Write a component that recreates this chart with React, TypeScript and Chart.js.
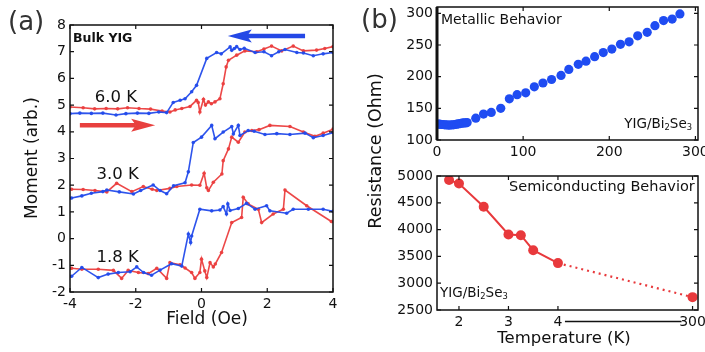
import React, { useEffect, useRef } from 'react';
import { Chart, registerables } from 'chart.js';
Chart.register(...registerables);

// ---------- Panel (a) data ----------
const FIELD_TICKS = [-4, -2, 0, 2, 4];
const MOMENT_TICKS = [-2, -1, 0, 1, 2, 3, 4, 5, 6, 7, 8];

const FIELD_6K_DOWN = [-4.0, -3.7, -3.35, -3.0, -2.6, -2.3, -1.95, -1.6, -1.3, -1.06, -0.86, -0.65, -0.5, -0.3, -0.15, 0.16, 0.46, 0.6, 0.87, 0.92, 1.0, 1.07, 1.17, 1.3, 1.63, 1.9, 2.13, 2.35, 2.54, 2.9, 3.1, 3.4, 3.7, 4.0];
const MOMENT_6K_DOWN = [4.68, 4.7, 4.69, 4.7, 4.63, 4.68, 4.7, 4.69, 4.74, 4.72, 5.1, 5.18, 5.24, 5.5, 5.74, 6.75, 6.97, 6.92, 7.18, 7.05, 7.12, 7.19, 7.08, 7.13, 6.97, 7.0, 6.85, 7.0, 7.08, 6.97, 6.95, 6.85, 6.92, 6.97];
const FIELD_6K_UP = [-4.0, -3.6, -3.25, -2.9, -2.55, -2.25, -1.9, -1.55, -1.2, -0.96, -0.8, -0.6, -0.35, -0.15, -0.1, -0.05, 0.06, 0.12, 0.21, 0.3, 0.41, 0.56, 0.66, 0.75, 0.82, 1.07, 1.32, 1.68, 1.9, 2.13, 2.44, 2.79, 3.1, 3.5, 3.75, 4.0];
const MOMENT_6K_UP = [4.93, 4.9, 4.86, 4.87, 4.86, 4.9, 4.87, 4.85, 4.78, 4.74, 4.82, 4.87, 4.95, 5.18, 5.1, 4.74, 5.22, 5.0, 5.12, 5.05, 5.12, 5.24, 5.8, 6.43, 6.68, 6.87, 7.03, 7.0, 7.1, 7.21, 7.03, 7.21, 7.03, 7.06, 7.12, 7.19];

const FIELD_3K_DOWN = [-3.95, -3.64, -3.35, -3.0, -2.88, -2.5, -2.07, -1.85, -1.47, -1.26, -1.06, -0.85, -0.5, -0.4, -0.25, 0.0, 0.31, 0.41, 0.66, 0.92, 0.97, 1.12, 1.17, 1.42, 1.6, 1.93, 2.29, 2.69, 3.15, 3.4, 3.7, 4.0];
const MOMENT_3K_DOWN = [1.52, 1.6, 1.7, 1.76, 1.82, 1.75, 1.67, 1.8, 2.01, 1.8, 1.68, 1.98, 2.09, 2.5, 3.6, 3.8, 4.24, 3.74, 3.99, 4.2, 3.92, 4.24, 3.86, 4.05, 4.02, 3.9, 3.93, 3.9, 3.95, 3.78, 3.86, 3.97];
const FIELD_3K_UP = [-3.95, -3.6, -3.24, -2.88, -2.58, -2.12, -1.77, -1.5, -1.36, -0.96, -0.75, -0.3, -0.05, 0.08, 0.16, 0.21, 0.36, 0.62, 0.66, 0.82, 0.92, 1.12, 1.32, 1.53, 1.75, 2.08, 2.69, 3.1, 3.45, 3.7, 4.0];
const MOMENT_3K_UP = [1.85, 1.84, 1.8, 1.75, 2.07, 1.76, 1.95, 1.85, 1.8, 1.88, 1.95, 2.01, 2.0, 2.45, 1.9, 1.8, 2.11, 2.42, 2.92, 3.36, 3.8, 3.61, 3.99, 4.05, 4.08, 4.24, 4.2, 3.99, 3.83, 3.95, 4.1];

const FIELD_1K8_DOWN = [-3.95, -3.64, -3.14, -2.84, -2.53, -2.17, -1.97, -1.76, -1.52, -1.26, -0.91, -0.6, -0.4, -0.33, -0.3, -0.05, 0.31, 0.56, 0.66, 0.76, 0.8, 0.87, 1.12, 1.37, 1.63, 1.98, 2.08, 2.59, 2.79, 3.25, 3.7, 4.0];
const MOMENT_1K8_DOWN = [-1.41, -1.08, -1.46, -1.33, -1.27, -1.24, -1.06, -1.27, -1.37, -1.18, -0.94, -1.03, 0.17, -0.15, 0.1, 1.1, 1.04, 1.07, 1.2, 0.92, 1.3, 1.05, 1.13, 1.32, 1.1, 1.23, 1.04, 0.95, 1.1, 1.1, 1.1, 1.02];
const FIELD_1K8_UP = [-3.95, -3.64, -3.14, -2.68, -2.43, -2.23, -1.92, -1.62, -1.36, -1.06, -0.96, -0.65, -0.5, -0.3, -0.2, -0.05, 0.0, 0.1, 0.16, 0.26, 0.36, 0.42, 0.61, 0.92, 1.22, 1.27, 1.42, 1.73, 1.83, 2.18, 2.49, 2.54, 3.2, 3.95];
const MOMENT_1K8_UP = [-1.11, -1.15, -1.15, -1.19, -1.49, -1.19, -1.27, -1.31, -1.11, -1.49, -0.9, -0.98, -1.1, -1.27, -1.49, -1.27, -0.77, -1.21, -1.46, -0.9, -1.06, -0.95, -0.52, 0.6, 0.79, 1.55, 1.3, 1.1, 0.6, 0.92, 1.1, 1.82, 1.23, 0.64];

// ---------- Panel (b) data ----------
const TEMP_METAL_TICKS = [0, 100, 200, 300];
const RES_METAL_TICKS = [100, 150, 200, 250, 300];
const TEMP_METAL = [1.5, 3, 5, 7, 9, 11, 13, 15, 17, 19, 21, 23, 25, 27, 29, 31, 33, 35, 45, 54, 63, 74, 84, 93, 103, 113, 123, 133, 144, 153, 164, 173, 183, 193, 203, 213, 223, 233, 244, 253, 263, 273, 282];
const RES_METAL = [125, 125, 124.5, 124.5, 124, 124, 123.5, 123.5, 124, 124, 124.5, 125, 125.5, 126, 126.5, 127, 127, 127.5, 134.5, 141, 143.5, 150, 165, 171.5, 174.5, 184, 190, 195.5, 202, 211.5, 219.5, 224.5, 231.5, 238, 243.5, 251, 255, 264.5, 270, 280.5, 288.5, 291, 299];

const TEMP_SEMI_TICKS = [2, 3, 4, 300];
const RES_SEMI_TICKS = [2500, 3000, 3500, 4000, 4500, 5000];
const TEMP_SEMI = [1.8, 2, 2.5, 3, 3.25, 3.5, 4, 300];
const RES_SEMI = [4925, 4860, 4425, 3910, 3895, 3615, 3375, 2740];
// broken temperature axis: everything above 4 K is drawn at the break position
const BREAK_FROM = 4;
const BREAK_POS = 6.72;
const axisT = (t: number) => (t <= BREAK_FROM ? t : BREAK_POS);

const BLUE_A = 'rgba(35,75,235,0.95)';
const RED_A = 'rgba(235,62,62,0.95)';
const BLUE_B = '#1f4cf2';
const RED_B = '#e8393c';
const TXT = '#111';
const FONT = "'DejaVu Sans', Verdana, sans-serif";

Chart.defaults.font.family = FONT;
Chart.defaults.color = TXT;

const pts = (xs: number[], ys: number[], f = (v: number) => v) => xs.map((x, i) => ({ x: f(x), y: ys[i] }));

function scale(min: number, max: number, ticks: number[], horizontal: boolean, label?: (v: number) => string) {
  return {
    type: 'linear',
    min,
    max,
    afterBuildTicks: (s: any) => {
      s.ticks = ticks.map((v) => ({ value: v }));
    },
    afterFit: (s: any) => {
      if (horizontal) s.height = 30;
      else s.width = 50;
      s.paddingTop = 0;
      s.paddingBottom = 0;
      s.paddingLeft = 0;
      s.paddingRight = 0;
    },
    grid: { display: false, drawTicks: false },
    border: { display: false },
    ticks: {
      autoSkip: false,
      maxRotation: 0,
      padding: horizontal ? 3.5 : 4,
      font: { size: 14, family: FONT },
      color: TXT,
      callback: (v: any) => (label ? label(Number(v)) : String(v)),
    },
  };
}

function makeFrame(thickLeft: boolean) {
  return {
    id: 'frame',
    afterDatasetsDraw(chart: any) {
      const { ctx, chartArea: a, scales } = chart;
      ctx.save();
      ctx.strokeStyle = '#111';
      ctx.lineWidth = 1.5;
      ctx.strokeRect(a.left, a.top, a.right - a.left, a.bottom - a.top);
      const L = 4;
      ctx.beginPath();
      scales.x.ticks.forEach((t: any) => {
        const p = scales.x.getPixelForValue(t.value);
        ctx.moveTo(p, a.bottom);
        ctx.lineTo(p, a.bottom - L);
        ctx.moveTo(p, a.top);
        ctx.lineTo(p, a.top + L);
      });
      scales.y.ticks.forEach((t: any) => {
        const p = scales.y.getPixelForValue(t.value);
        ctx.moveTo(a.left, p);
        ctx.lineTo(a.left + L, p);
        ctx.moveTo(a.right, p);
        ctx.lineTo(a.right - L, p);
      });
      ctx.lineWidth = 1.2;
      ctx.stroke();
      if (thickLeft) {
        ctx.beginPath();
        ctx.lineWidth = 3;
        ctx.moveTo(a.left, a.top);
        ctx.lineTo(a.left, a.bottom);
        ctx.stroke();
      }
      ctx.restore();
    },
  };
}

function arrow(ctx: any, x1: number, x2: number, y: number, color: string) {
  const dir = x2 > x1 ? 1 : -1;
  const head = 24;
  const half = 6.5;
  ctx.save();
  ctx.fillStyle = color;
  ctx.strokeStyle = color;
  ctx.lineWidth = 4.5;
  ctx.beginPath();
  ctx.moveTo(x1, y);
  ctx.lineTo(x2 - dir * head * 0.8, y);
  ctx.stroke();
  ctx.beginPath();
  ctx.moveTo(x2, y);
  ctx.lineTo(x2 - dir * head, y - half);
  ctx.lineTo(x2 - dir * head * 0.8, y);
  ctx.lineTo(x2 - dir * head, y + half);
  ctx.closePath();
  ctx.fill();
  ctx.restore();
}

function text(ctx: any, s: string, x: number, y: number, size: number, align = 'left', weight = 'normal', color = TXT) {
  ctx.save();
  ctx.font = `${weight} ${size}px ${FONT}`;
  ctx.fillStyle = color;
  ctx.textAlign = align;
  ctx.textBaseline = 'middle';
  ctx.fillText(s, x, y);
  ctx.restore();
}

// draws "YIG/Bi2Se3" with real subscripts
function formula(ctx: any, x: number, y: number, size: number, align: 'left' | 'right') {
  const parts: [string, boolean][] = [['YIG/Bi', false], ['2', true], ['Se', false], ['3', true]];
  const sub = size * 0.62;
  ctx.save();
  ctx.fillStyle = TXT;
  ctx.textBaseline = 'middle';
  ctx.textAlign = 'left';
  let total = 0;
  parts.forEach(([s, isSub]) => {
    ctx.font = `${isSub ? sub : size}px ${FONT}`;
    total += ctx.measureText(s).width;
  });
  let cx = align === 'left' ? x : x - total;
  parts.forEach(([s, isSub]) => {
    ctx.font = `${isSub ? sub : size}px ${FONT}`;
    ctx.fillText(s, cx, isSub ? y + size * 0.28 : y);
    cx += ctx.measureText(s).width;
  });
  ctx.restore();
}

const panelAText = {
  id: 'panelAText',
  afterDraw(chart: any) {
    const { ctx, scales } = chart;
    const X = (v: number) => scales.x.getPixelForValue(v);
    const Y = (v: number) => scales.y.getPixelForValue(v);
    text(ctx, '(a)', 8, 23, 26, 'left', 'normal', '#333');
    text(ctx, 'Bulk YIG', 73, 39, 12.5, 'left', 'bold');
    text(ctx, '6.0 K', X(-2.6), Y(5.29), 16.5, 'center');
    text(ctx, '3.0 K', X(-2.55), Y(2.4), 16.5, 'center');
    text(ctx, '1.8 K', X(-2.55), Y(-0.72), 16.5, 'center');
    arrow(ctx, X(3.15), X(0.8), Y(7.59), '#2448e6');
    arrow(ctx, X(-3.7), X(-1.41), Y(4.25), '#e8403e');
    text(ctx, 'Field (Oe)', 207, 320, 17, 'center');
    ctx.save();
    ctx.translate(33, 158);
    ctx.rotate(-Math.PI / 2);
    text(ctx, 'Moment (arb.)', 0, 0, 17, 'center');
    ctx.restore();
  },
};

const panelBTopText = {
  id: 'panelBTopText',
  afterDraw(chart: any) {
    const { ctx } = chart;
    text(ctx, '(b)', 361, 21, 26, 'left', 'normal', '#333');
    text(ctx, 'Metallic Behavior', 441, 20, 14, 'left');
    formula(ctx, 692, 124, 13.5, 'right');
    ctx.save();
    ctx.translate(376, 151);
    ctx.rotate(-Math.PI / 2);
    text(ctx, 'Resistance (Ohm)', 0, 0, 17.5, 'center');
    ctx.restore();
  },
};

const panelBBottomText = {
  id: 'panelBBottomText',
  afterDraw(chart: any) {
    const { ctx, scales, chartArea: a } = chart;
    text(ctx, 'Semiconducting Behavior', 509, 187, 14.5, 'left');
    formula(ctx, 440, 293, 13.5, 'left');
    text(ctx, 'Temperature (K)', 564, 339, 16.5, 'center');
    const x1 = scales.x.getPixelForValue(BREAK_FROM) + 7;
    const x2 = scales.x.getPixelForValue(BREAK_POS) - 11;
    ctx.save();
    ctx.strokeStyle = '#111';
    ctx.lineWidth = 1.3;
    ctx.beginPath();
    ctx.moveTo(x1, a.bottom + 11.5);
    ctx.lineTo(x2, a.bottom + 11.5);
    ctx.stroke();
    ctx.restore();
  },
};

const base = {
  animation: false,
  responsive: false,
  devicePixelRatio: 1,
  events: [],
  plugins: { legend: { display: false }, tooltip: { enabled: false } },
};

function lineSet(xs: number[], ys: number[], color: string) {
  return {
    data: pts(xs, ys),
    showLine: true,
    borderColor: color,
    backgroundColor: color,
    borderWidth: 1.6,
    pointRadius: 1.8,
    pointBorderWidth: 0,
  };
}

function configA(): any {
  return {
    type: 'scatter',
    data: {
      datasets: [
        lineSet(FIELD_6K_DOWN, MOMENT_6K_DOWN, BLUE_A),
        lineSet(FIELD_6K_UP, MOMENT_6K_UP, RED_A),
        lineSet(FIELD_3K_DOWN, MOMENT_3K_DOWN, BLUE_A),
        lineSet(FIELD_3K_UP, MOMENT_3K_UP, RED_A),
        lineSet(FIELD_1K8_DOWN, MOMENT_1K8_DOWN, BLUE_A),
        lineSet(FIELD_1K8_UP, MOMENT_1K8_UP, RED_A),
      ],
    },
    options: {
      ...base,
      layout: { padding: { left: 20, right: 372, top: 25, bottom: 30 } },
      scales: {
        x: scale(-4, 4, FIELD_TICKS, true),
        y: scale(-2, 8, MOMENT_TICKS, false),
      },
    },
    plugins: [makeFrame(false), panelAText],
  };
}

function configBTop(): any {
  return {
    type: 'scatter',
    data: {
      datasets: [
        {
          data: pts(TEMP_METAL, RES_METAL),
          backgroundColor: BLUE_B,
          borderColor: BLUE_B,
          pointRadius: 4.6,
          pointBorderWidth: 0,
          showLine: false,
        },
      ],
    },
    options: {
      ...base,
      layout: { padding: { left: 387, right: 7, top: 7, bottom: 182 } },
      scales: {
        x: scale(0, 303, TEMP_METAL_TICKS, true),
        y: scale(100, 310, RES_METAL_TICKS, false),
      },
    },
    plugins: [makeFrame(true), panelBTopText],
  };
}

function configBBottom(): any {
  const last = TEMP_SEMI.length - 1;
  const tickPos = TEMP_SEMI_TICKS.map(axisT);
  return {
    type: 'scatter',
    data: {
      datasets: [
        {
          data: pts(TEMP_SEMI, RES_SEMI, axisT),
          showLine: true,
          backgroundColor: RED_B,
          borderColor: RED_B,
          borderWidth: 2,
          pointRadius: 5,
          pointBorderWidth: 0,
          segment: {
            borderDash: (c: any) => (c.p1DataIndex === last ? [2, 4] : undefined),
            borderWidth: (c: any) => (c.p1DataIndex === last ? 2.2 : 2),
          },
        },
      ],
    },
    options: {
      ...base,
      layout: { padding: { left: 387, right: 7, top: 176, bottom: 12 } },
      scales: {
        x: scale(1.556, 6.83, tickPos, true, (v) => String(TEMP_SEMI_TICKS[tickPos.indexOf(v)])),
        y: scale(2500, 5000, RES_SEMI_TICKS, false),
      },
    },
    plugins: [makeFrame(false), panelBBottomText],
  };
}

function ChartCanvas({ make }: { make: () => any }) {
  const ref = useRef<HTMLCanvasElement>(null);
  useEffect(() => {
    const chart = new Chart(ref.current as HTMLCanvasElement, make());
    return () => chart.destroy();
  }, [make]);
  return <canvas ref={ref} width={705} height={352} style={{ position: 'absolute', left: 0, top: 0 }} />;
}

export default function App() {
  return (
    <div
      style={{
        position: 'fixed',
        left: 0,
        top: 0,
        width: 705,
        height: 352,
        overflow: 'hidden',
        background: '#fff',
      }}
    >
      <ChartCanvas make={configA} />
      <ChartCanvas make={configBTop} />
      <ChartCanvas make={configBBottom} />
    </div>
  );
}
